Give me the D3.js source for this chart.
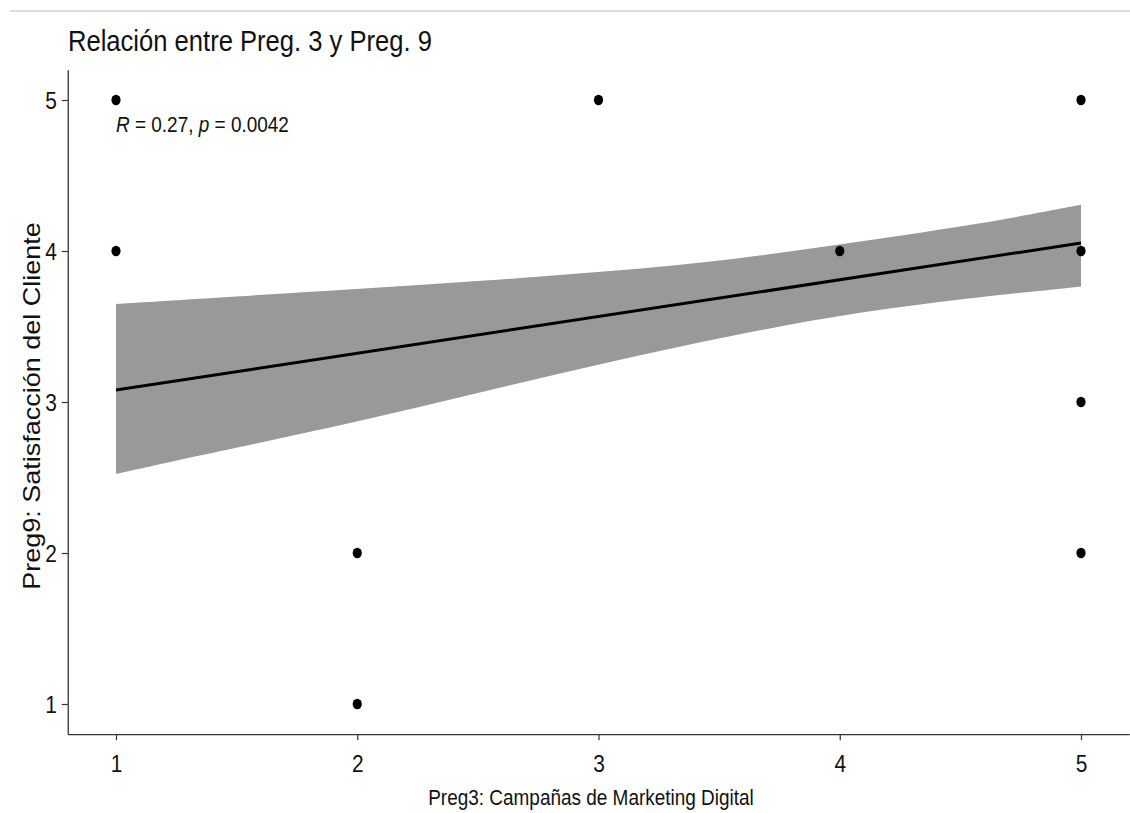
<!DOCTYPE html>
<html>
<head>
<meta charset="utf-8">
<script src="https://cdn.jsdelivr.net/npm/d3@7"></script>
<style>
  html, body { margin: 0; padding: 0; background: #fff; }
  svg { display: block; font-family: "Liberation Sans", Arial, sans-serif; }
</style>
</head>
<body>
<svg id="chart" width="1130" height="813"></svg>
<script>
// ---- Data ----
const titleText = "Relación entre Preg. 3 y Preg. 9";
const xLabel = "Preg3: Campañas de Marketing Digital";
const yLabel = "Preg9: Satisfacción del Cliente";
const xTicks = [1, 2, 3, 4, 5];
const yTicks = [1, 2, 3, 4, 5];
const pointsX = [1, 1, 2, 2, 3, 4, 5, 5, 5, 5];
const pointsY = [5, 4, 2, 1, 5, 4, 5, 4, 3, 2];
const fitX = [1, 5];
const fitY = [3.079, 4.053];
const bandX = [1.0, 1.493, 2.011, 2.53, 3.048, 3.566, 4.084, 4.602, 5.0];
const bandLow = [2.524, 2.696, 2.873, 3.071, 3.269, 3.446, 3.600, 3.699, 3.765];
const bandHigh = [3.649, 3.699, 3.750, 3.803, 3.865, 3.942, 4.063, 4.184, 4.306];
const statR = "0.27";
const statP = "0.0042";

// ---- Layout ----
const svg = d3.select("#chart");
const SX = 0.87; // horizontal squeeze of the reference text
const x = d3.scaleLinear().domain([0.8, 5.2]).range([67.75, 1129.25]);
const y = d3.scaleLinear().domain([0.8, 5.2]).range([734.2, 69.8]);

// top separator line
svg.append("line").attr("x1", 10).attr("x2", 1130).attr("y1", 11).attr("y2", 11)
  .attr("stroke", "#dcdcdc").attr("stroke-width", 2);

// ribbon
const band = bandX.map((v, i) => ({x: v, lo: bandLow[i], hi: bandHigh[i]}));
svg.append("path").datum(band)
  .attr("d", d3.area().x(d => x(d.x)).y0(d => y(d.lo)).y1(d => y(d.hi)).curve(d3.curveBasis))
  .attr("fill", "#999999");

// fit line
const fit = fitX.map((v, i) => ({x: v, y: fitY[i]}));
svg.append("path").datum(fit)
  .attr("d", d3.line().x(d => x(d.x)).y(d => y(d.y)))
  .attr("fill", "none").attr("stroke", "#000").attr("stroke-width", 3);

// points
svg.append("g").selectAll("ellipse").data(pointsX.map((v, i) => ({x: v, y: pointsY[i]})))
  .join("ellipse")
  .attr("cx", d => x(d.x)).attr("cy", d => y(d.y))
  .attr("rx", 4.6).attr("ry", 5.2).attr("fill", "#000");

// axes
const xAxis = svg.append("g").attr("transform", `translate(0,${y(0.8)})`)
  .call(d3.axisBottom(x).tickValues(xTicks).tickSize(6).tickSizeOuter(0).tickFormat(d3.format("d")));
const yAxis = svg.append("g").attr("transform", `translate(${x(0.8)},0)`)
  .call(d3.axisLeft(y).tickValues(yTicks).tickSize(6).tickSizeOuter(0).tickFormat(d3.format("d")));
[xAxis, yAxis].forEach(a => {
  a.select(".domain").attr("stroke", "#333").attr("stroke-width", 1.3);
  a.selectAll(".tick line").attr("stroke", "#333").attr("stroke-width", 1.2);
  a.selectAll(".tick text").attr("fill", "#111").attr("font-size", 24)
    .attr("font-family", "Liberation Sans, Arial, sans-serif");
});
xAxis.selectAll(".tick text").attr("y", 0).attr("dy", 0)
  .attr("transform", `translate(0,38) scale(${SX},1)`);
yAxis.selectAll(".tick text").attr("x", 0).attr("dy", 0)
  .attr("transform", `translate(-11,8.5) scale(${SX},1)`);

// helper for squeezed text
function label(px, py, txt, size, anchor) {
  return svg.append("text")
    .attr("transform", `translate(${px},${py}) scale(${SX},1)`)
    .attr("font-size", size).attr("text-anchor", anchor).attr("fill", "#111").text(txt);
}

// title
label(68, 51, titleText, 29.4, "start");

// x label
label(591, 805, xLabel, 21.8, "middle");

// y label
svg.append("text")
  .attr("transform", `translate(40,406) rotate(-90) scale(1,${SX})`)
  .attr("font-size", 27).attr("text-anchor", "middle").attr("fill", "#111").text(yLabel);

// stat annotation
const ann = svg.append("text")
  .attr("transform", `translate(${x(1)},132) scale(${SX},1)`)
  .attr("font-size", 21.8).attr("fill", "#111");
ann.append("tspan").attr("font-style", "italic").text("R");
ann.append("tspan").text(` = ${statR}, `);
ann.append("tspan").attr("font-style", "italic").text("p");
ann.append("tspan").text(` = ${statP}`);
</script>
</body>
</html>
